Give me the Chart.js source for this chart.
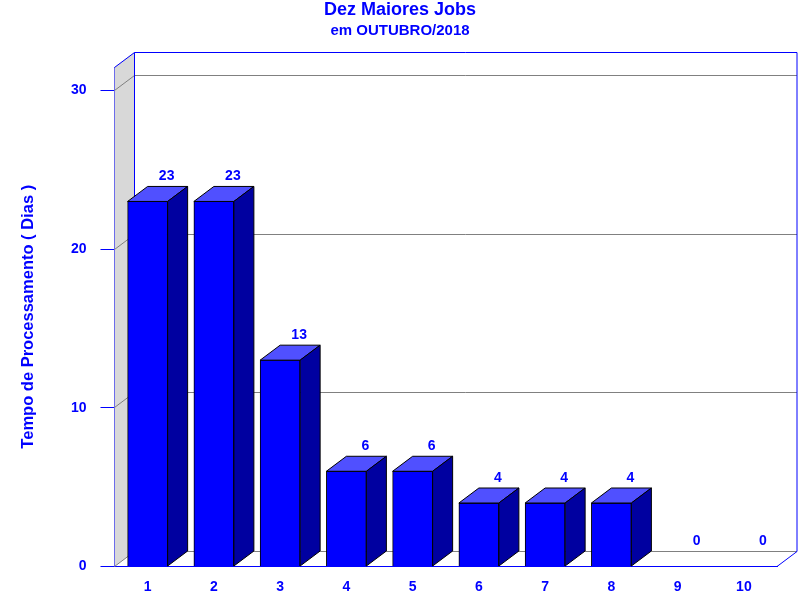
<!DOCTYPE html>
<html>
<head>
<meta charset="utf-8">
<style>
  html, body { margin: 0; padding: 0; background: #fff; }
  canvas { display: block; }
</style>
<script src="https://cdn.jsdelivr.net/npm/chart.js@4"></script>
</head>
<body>
<canvas id="grafico" width="800" height="600"></canvas>
<script>
const categorias = ['1', '2', '3', '4', '5', '6', '7', '8', '9', '10'];
const dias = [23, 23, 13, 6, 6, 4, 4, 4, 0, 0];
const marcasY = [0, 10, 20, 30];
const eixoMax = 31.47;

const AZUL = '#0000ff';
const FONTE = 'Arial, "Liberation Sans", sans-serif';
// deslocamento do efeito 3D
const DX = 20, DY = -15;

// parede lateral, fundo e linhas de grade
const paredes = {
    id: 'paredes',
    beforeDatasetsDraw(chart) {
        const { ctx, chartArea: a, scales } = chart;
        ctx.save();
        ctx.lineWidth = 1;

        ctx.fillStyle = '#d8d8d8';
        ctx.beginPath();
        ctx.moveTo(a.left, a.top);
        ctx.lineTo(a.left + DX, a.top + DY);
        ctx.lineTo(a.left + DX, a.bottom + DY);
        ctx.lineTo(a.left, a.bottom);
        ctx.closePath();
        ctx.fill();

        // grade cinza, alinhada com as marcas do eixo
        ctx.strokeStyle = '#808080';
        ctx.beginPath();
        marcasY.forEach(v => {
            const y = Math.round(scales.y.getPixelForValue(v) - 0.5) + 0.5;
            ctx.moveTo(a.left, y);
            ctx.lineTo(a.left + DX, y + DY);
            ctx.lineTo(a.right + DX, y + DY);
        });
        ctx.stroke();

        // contorno azul
        const topo = Math.round(a.top) + 0.5;
        ctx.strokeStyle = AZUL;
        ctx.beginPath();
        ctx.moveTo(a.left, topo);
        ctx.lineTo(a.left + DX, topo + DY);
        ctx.lineTo(a.right + DX, topo + DY);
        ctx.lineTo(a.right + DX, a.bottom + DY);
        ctx.lineTo(a.right, a.bottom);
        ctx.moveTo(a.left + DX, topo + DY);
        ctx.lineTo(a.left + DX, a.bottom + DY);
        ctx.stroke();
        ctx.restore();
    }
};

// topo e lado das barras, e os valores
const barras3d = {
    id: 'barras3d',
    afterDatasetsDraw(chart) {
        const { ctx } = chart;
        const meta = chart.getDatasetMeta(0);
        ctx.save();
        ctx.lineWidth = 1;
        ctx.strokeStyle = '#000';
        meta.data.forEach((bar, i) => {
            const esq = bar.x - bar.width / 2, dir = bar.x + bar.width / 2;
            if (dias[i] > 0) {
                ctx.fillStyle = '#5050ff';
                ctx.beginPath();
                ctx.moveTo(esq, bar.y);
                ctx.lineTo(esq + DX, bar.y + DY);
                ctx.lineTo(dir + DX, bar.y + DY);
                ctx.lineTo(dir, bar.y);
                ctx.closePath();
                ctx.fill();
                ctx.stroke();

                ctx.fillStyle = '#0000a0';
                ctx.beginPath();
                ctx.moveTo(dir, bar.y);
                ctx.lineTo(dir + DX, bar.y + DY);
                ctx.lineTo(dir + DX, bar.base + DY);
                ctx.lineTo(dir, bar.base);
                ctx.closePath();
                ctx.fill();
                ctx.stroke();
            }
            ctx.fillStyle = AZUL;
            ctx.font = 'bold 14px ' + FONTE;
            ctx.textAlign = 'center';
            ctx.textBaseline = 'middle';
            ctx.fillText(String(dias[i]), bar.x + 19, bar.y - 25);
        });
        ctx.restore();
    }
};

new Chart(document.getElementById('grafico'), {
    type: 'bar',
    data: {
        labels: categorias,
        datasets: [{
            data: dias,
            backgroundColor: AZUL,
            borderColor: '#000',
            borderWidth: 1,
            barThickness: 40
        }]
    },
    plugins: [paredes, barras3d],
    options: {
        responsive: false,
        animation: false,
        devicePixelRatio: 1,
        // esquerda = direita para o titulo ficar centrado na pagina
        layout: { padding: { top: 0, right: 23, bottom: 0, left: 23 } },
        plugins: {
            legend: { display: false },
            tooltip: { enabled: false },
            title: {
                display: true,
                text: 'Dez Maiores Jobs',
                color: AZUL,
                font: { family: FONTE, size: 18, weight: 'bold' },
                padding: { top: -1, bottom: 0 }
            },
            subtitle: {
                display: true,
                text: 'em OUTUBRO/2018',
                color: AZUL,
                font: { family: FONTE, size: 15, weight: 'bold' },
                padding: { top: 1, bottom: 27.4 }
            }
        },
        scales: {
            x: {
                grid: { display: false, drawTicks: false },
                border: { color: AZUL },
                ticks: {
                    color: AZUL,
                    padding: 12.5,
                    maxRotation: 0,
                    font: { family: FONTE, size: 14, weight: 'bold' }
                },
                afterFit(scale) { scale.height = 33.5; }
            },
            y: {
                min: 0,
                max: eixoMax,
                afterBuildTicks(scale) { scale.ticks = marcasY.map(v => ({ value: v })); },
                grid: { drawOnChartArea: false, color: AZUL, tickLength: 14 },
                border: { color: AZUL },
                ticks: {
                    color: AZUL,
                    padding: 14,
                    font: { family: FONTE, size: 14, weight: 'bold' }
                },
                title: {
                    display: true,
                    text: 'Tempo de Processamento ( Dias )',
                    color: AZUL,
                    font: { family: FONTE, size: 16.5, weight: 'bold' },
                    padding: { top: -4, bottom: 0 }
                },
                afterFit(scale) { scale.width = 91.5; }
            }
        }
    }
});
</script>
</body>
</html>
